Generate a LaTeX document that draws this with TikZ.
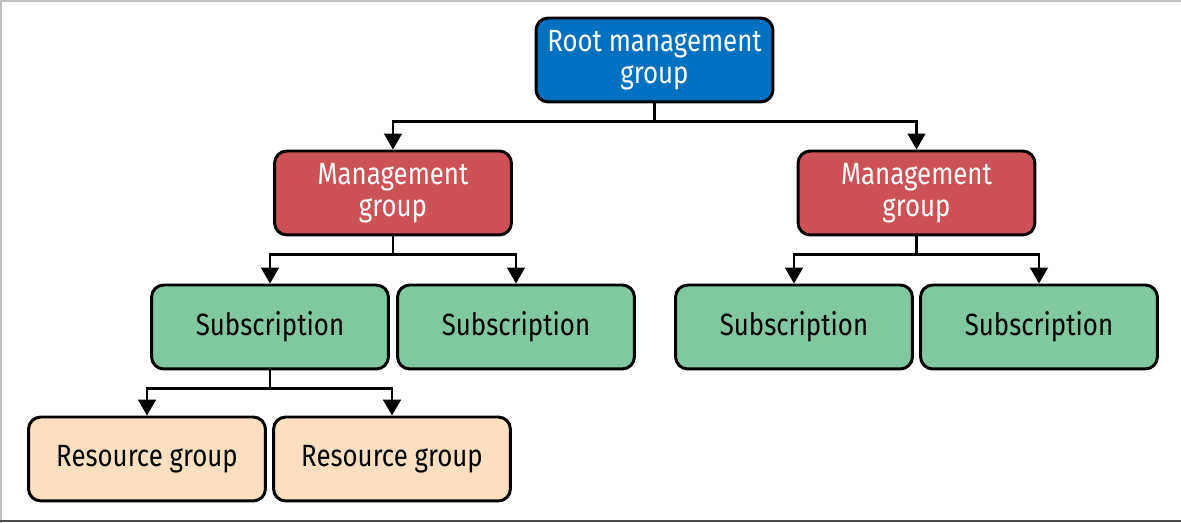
\documentclass[tikz,border=0pt]{standalone}
\usepackage{fontspec}
\setmainfont{Fira Sans}[FakeStretch=0.84]
\usetikzlibrary{arrows.meta}

\definecolor{rootblue}{HTML}{0070C0}
\definecolor{mgmtred}{HTML}{CD5257}
\definecolor{subgreen}{HTML}{80C9A0}
\definecolor{rgpeach}{HTML}{FCDFBF}

\tikzset{
  box/.style={draw=black, line width=1.7pt, rounded corners=7pt,
    minimum width=4.74cm, minimum height=1.68cm, align=center,
    font=\fontsize{17.5}{18.5}\selectfont},
  rootbox/.style={box, fill=rootblue, text=white},
  mgmtbox/.style={box, fill=mgmtred, text=white},
  subbox/.style={box, fill=subgreen},
  rgbox/.style={box, fill=rgpeach},
  link/.style={line width=1.4pt, -{Triangle[width=10pt,length=9pt]}}
}

\begin{document}
\begin{tikzpicture}[x=0.02cm, y=-0.02cm]
        \useasboundingbox (0,0) rectangle (1181,523);

        % draw frame
        \draw[black!25, line width=0.8pt] (0,1) -- (1181,1);
        \draw[black!25, line width=0.8pt] (1,0) -- (1,523);
        \draw[black!70, line width=0.8pt] (0,521) -- (1181,521);

        % draw nodes
        \node[rootbox] (root) at (654.5,60) {Root management\\group};
        \node[mgmtbox] (mgl) at (393,193) {Management\\group};
        \node[mgmtbox] (mgr) at (916.5,193) {Management\\group};
        \node[subbox] (sub1) at (270,327) {Subscription};
        \node[subbox] (sub2) at (516,327) {Subscription};
        \node[subbox] (sub3) at (794,327) {Subscription};
        \node[subbox] (sub4) at (1039,327) {Subscription};
        \node[rgbox] (rg1) at (147,459) {Resource group};
        \node[rgbox] (rg2) at (392,459) {Resource group};

        % draw connectors
        \foreach \a/\b in {root/mgl,root/mgr,mgl/sub1,mgl/sub2,mgr/sub3,mgr/sub4,sub1/rg1,sub1/rg2}
          \draw[link] (\a.south) -- ++(0,18) -| (\b.north);
        \end{tikzpicture}
\end{document}
